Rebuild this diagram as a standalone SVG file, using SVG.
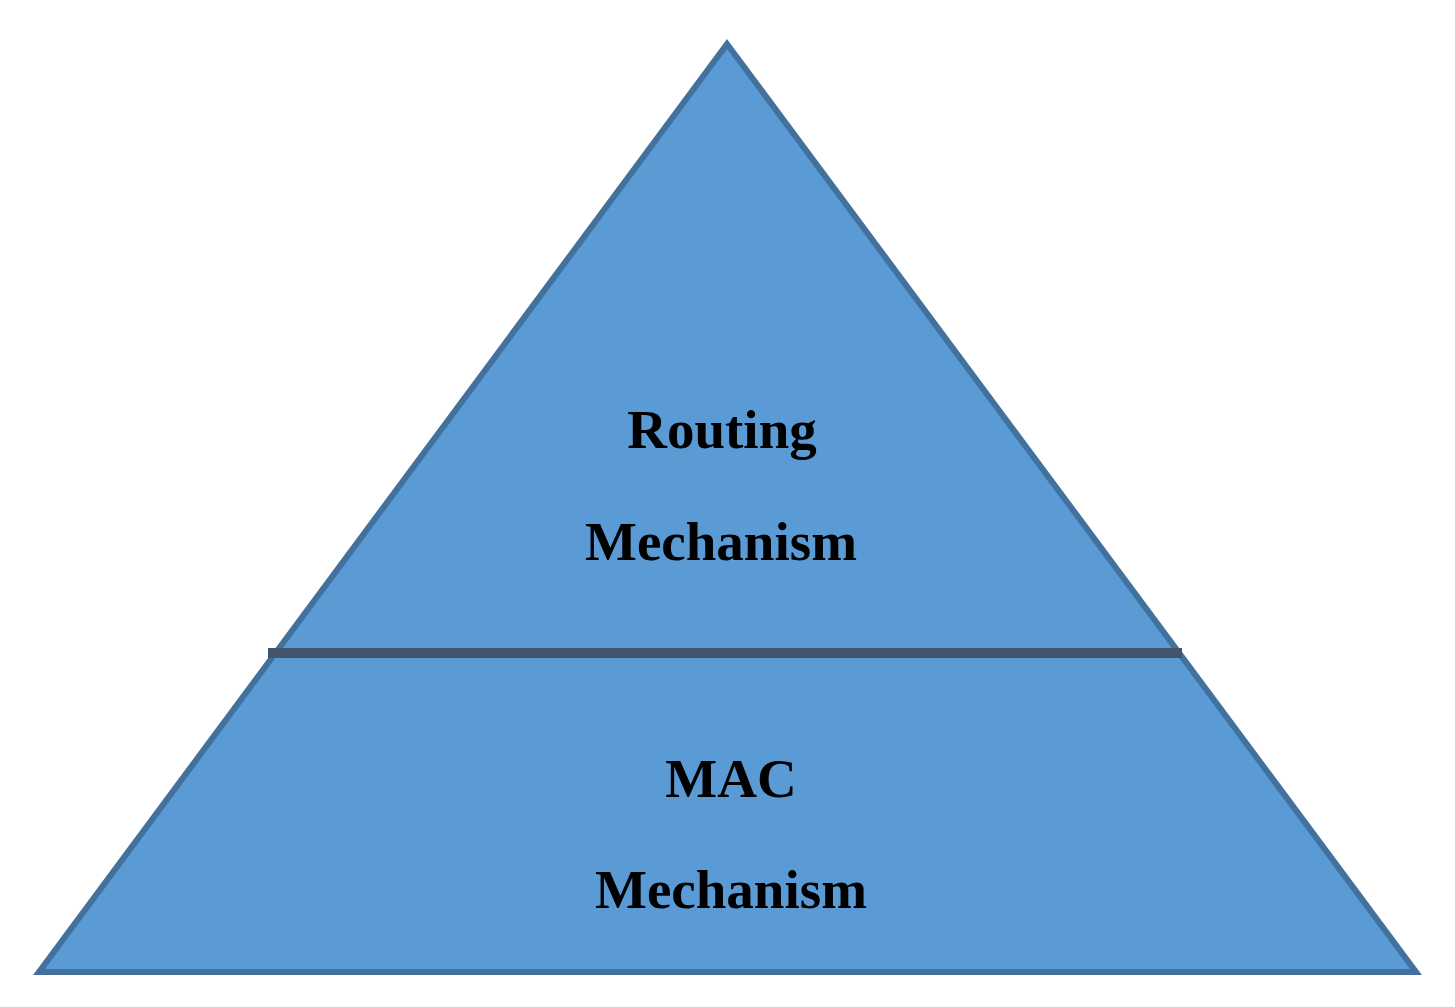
<svg xmlns="http://www.w3.org/2000/svg" width="1455" height="1007" viewBox="0 0 1455 1007">
<style>
.lbl{font-family:"Liberation Serif","Times New Roman",serif;font-weight:bold;font-size:55px;fill:#000;text-anchor:middle}
</style>
<rect width="1455" height="1007" fill="#fff"/>
<g id="pyramid">
<polygon points="727,44 39,972 1416,972" fill="#5B9BD5" stroke="#41719C" stroke-width="6" stroke-linejoin="miter"/>
</g>
<g id="connectors">
<line x1="268" y1="653" x2="1182" y2="653" stroke="#44546A" stroke-width="10"/>
</g>
<g id="routing">
<text class="lbl" x="722" y="448">Routing</text>
<text class="lbl" x="721" y="560">Mechanism</text>
</g>
<g id="mac">
<text class="lbl" x="731" y="797">MAC</text>
<text class="lbl" x="731" y="908">Mechanism</text>
</g>
</svg>
